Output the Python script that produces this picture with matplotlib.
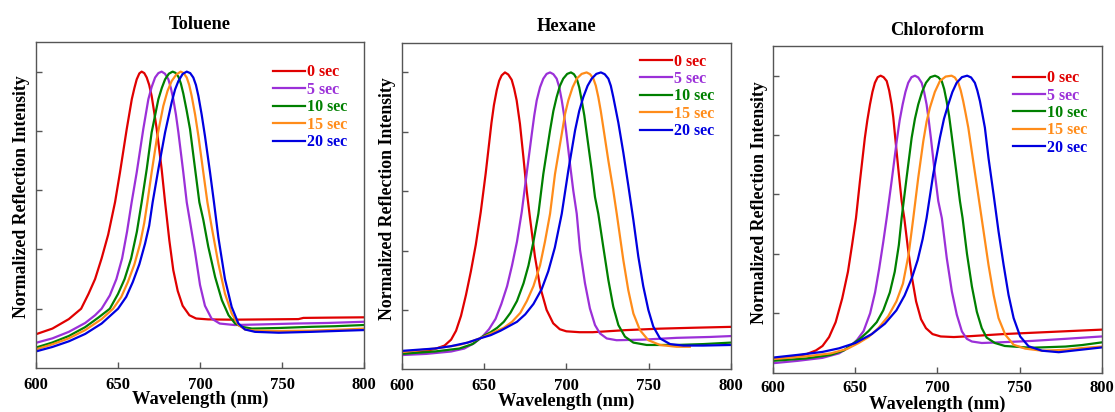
import numpy as np
import matplotlib
matplotlib.use("Agg")
import matplotlib.pyplot as plt

plt.rcParams['font.family'] = ['Liberation Serif', 'DejaVu Serif']
plt.rcParams['font.weight'] = 'bold'

labels = ['0 sec', '5 sec', '10 sec', '15 sec', '20 sec']
colors = ['#e00000', '#9b30d8', '#008000', '#ff8c1a', '#0000e0']
titles = ['Toluene', 'Hexane', 'Chloroform']

# ---------------- Toluene ----------------
tol_red_x = [600, 610, 620, 627.5, 632, 636, 640, 644, 648.2, 651.2, 655.3, 658.4, 660, 661.4, 663, 664.4, 666, 667.5,
             669, 670.5, 672, 673.6, 676.6, 678.7, 681.3, 683.7, 686.4, 689.4, 693.5, 697.6, 705, 720, 740, 760, 763, 780, 800]
tol_red_y = [0.114, 0.133, 0.165, 0.2, 0.25, 0.30, 0.37, 0.45, 0.56, 0.66, 0.806, 0.907, 0.945, 0.974, 0.994, 1.0, 0.995, 0.98,
             0.955, 0.918, 0.865, 0.806, 0.671, 0.559, 0.43, 0.33, 0.26, 0.21, 0.178, 0.167, 0.164, 0.163, 0.164, 0.165, 0.169, 0.17, 0.171]

tol_pur_x = [600, 610, 620, 630, 636, 640, 645, 649, 652.5, 655.5, 658.3, 661.4, 665.4, 668.5, 670.5, 672.6, 674.6, 676.6,
             678.6, 680.7, 682.2, 683.7, 685.3, 686.8, 689.8, 691.9, 694, 697, 700, 703, 707, 712, 721, 737, 758, 778, 800]
tol_pur_y = [0.085, 0.1, 0.122, 0.152, 0.178, 0.2, 0.245, 0.3, 0.37, 0.46, 0.559, 0.66, 0.806, 0.907, 0.948, 0.98, 0.995, 1.0,
             0.993, 0.974, 0.945, 0.907, 0.855, 0.795, 0.66, 0.559, 0.49, 0.39, 0.28, 0.21, 0.167, 0.15, 0.145, 0.147, 0.15, 0.152, 0.156]

tol_grn_x = [600, 610, 620, 630, 638, 645, 650, 654, 658, 661.5, 664.4, 667.5, 670.5, 674.6, 676.7, 678.7, 681, 683.3,
             685, 686.8, 688.3, 689.8, 691.8, 693.9, 697, 699.6, 702, 705, 709.2, 713.3, 717.4, 721.4, 725.5, 731.6, 748, 768, 782.5, 800]
tol_grn_y = [0.069, 0.086, 0.108, 0.138, 0.17, 0.2, 0.25, 0.3, 0.37, 0.46, 0.559, 0.671, 0.795, 0.907, 0.945, 0.974, 0.993, 1.0,
             0.996, 0.983, 0.96, 0.926, 0.87, 0.806, 0.671, 0.559, 0.5, 0.41, 0.307, 0.229, 0.178, 0.15, 0.139, 0.133, 0.135, 0.139, 0.141, 0.145]

tol_org_x = [600, 610, 620, 630, 640, 647, 652, 656, 660, 663.5, 666, 667.9, 670.5, 673.6, 677.6, 680.2, 682.7, 685.5, 688.2,
             690, 691.9, 693.4, 694.9, 697, 699, 702, 704.5, 707.1, 711.2, 715.2, 719.3, 723.4, 727.4, 733.5, 748, 768, 788.6, 800]
tol_org_y = [0.063, 0.08, 0.1, 0.128, 0.165, 0.2, 0.24, 0.29, 0.35, 0.42, 0.49, 0.559, 0.66, 0.772, 0.884, 0.935, 0.968, 0.99, 1.0,
             0.995, 0.98, 0.955, 0.918, 0.855, 0.783, 0.66, 0.559, 0.476, 0.352, 0.251, 0.184, 0.145, 0.13, 0.126, 0.125, 0.126, 0.13, 0.133]

tol_blu_x = [600, 610, 620, 630, 640, 650, 655, 659, 663, 666.5, 669, 671.1, 674.6, 678.7, 682.7, 684.8, 686.8, 689.4, 691.9,
             694, 695.9, 697.5, 699, 701, 703, 706.1, 708.5, 711.2, 715.2, 719.3, 723.4, 727.4, 733.5, 748, 768, 788.6, 800]
tol_blu_y = [0.056, 0.071, 0.09, 0.115, 0.15, 0.2, 0.24, 0.29, 0.35, 0.42, 0.48, 0.559, 0.671, 0.795, 0.896, 0.94, 0.968, 0.992, 1.0,
             0.995, 0.98, 0.955, 0.918, 0.855, 0.783, 0.66, 0.559, 0.44, 0.3, 0.206, 0.15, 0.13, 0.122, 0.119, 0.122, 0.126, 0.128]

# ---------------- Hexane ----------------
hex_red_x = [600, 610, 620, 626, 630, 633, 636, 639, 642, 645, 648, 651, 654.5, 656, 657.7, 659.2, 660.7, 662.7, 664.7,
             666.8, 668.3, 669.8, 671.8, 673.9, 675.9, 677.9, 680.9, 684, 688, 692, 696, 700, 708, 716, 736, 757, 777, 800]
hex_red_y = [0.052, 0.058, 0.068, 0.08, 0.1, 0.13, 0.18, 0.25, 0.33, 0.42, 0.53, 0.66, 0.83, 0.89, 0.94, 0.972, 0.99, 1.0, 0.993,
             0.975, 0.945, 0.906, 0.827, 0.715, 0.602, 0.51, 0.38, 0.279, 0.2, 0.155, 0.135, 0.128, 0.125, 0.125, 0.132, 0.137, 0.14, 0.143]

hex_pur_x = [600, 615, 630, 638, 644, 649, 653, 657, 660.5, 664, 667, 670, 672.9, 675.9, 679, 680.5, 682, 684, 686, 688, 690.1,
             692.1, 694.1, 695.7, 697.2, 698.5, 699.8, 702.2, 704.2, 706.3, 708.3, 711.3, 714.3, 717.4, 720.4, 724.5, 730.5,
             746.7, 767, 787.2, 800]
hex_pur_y = [0.048, 0.052, 0.06, 0.07, 0.088, 0.11, 0.135, 0.17, 0.22, 0.28, 0.35, 0.43, 0.53, 0.66, 0.793, 0.855, 0.906, 0.95, 0.979, 0.995, 1.0,
             0.994, 0.979, 0.95, 0.906, 0.86, 0.805, 0.692, 0.602, 0.524, 0.402, 0.29, 0.205, 0.149, 0.121, 0.104, 0.098,
             0.1, 0.106, 0.109, 0.112]

hex_grn_x = [600, 620, 635, 643, 649, 654, 658, 662, 666, 670, 674, 677, 680, 683, 686, 690.1, 692.1, 694.1, 696.1, 698.1, 700.5,
             702.8, 704.6, 706.3, 707.8, 709.3, 710.9, 712.4, 715.4, 717.4, 719.4, 722.4, 725.5, 728.5, 731.6, 735.6, 740.7,
             748.8, 767, 783.2, 800]
hex_grn_y = [0.052, 0.06, 0.07, 0.085, 0.11, 0.125, 0.14, 0.16, 0.19, 0.23, 0.29, 0.35, 0.43, 0.524, 0.658, 0.805, 0.87, 0.917, 0.955, 0.979, 0.995,
             1.0, 0.994, 0.979, 0.95, 0.906, 0.855, 0.793, 0.67, 0.58, 0.524, 0.413, 0.301, 0.211, 0.149, 0.11, 0.09,
             0.082, 0.082, 0.085, 0.09]

hex_org_x = [600, 620, 635, 643, 650, 656, 662, 667, 672, 676, 680, 684, 687, 690.1, 693.1, 697.2, 699.2, 701.2, 703.8, 706.3,
             709.3, 712.3, 714.4, 716.4, 717.9, 719.4, 720.9, 722.4, 725.5, 728.5, 730.6, 734.6, 737.6, 740.7, 744.7, 749.8,
             756.9, 767, 775]
hex_org_y = [0.058, 0.07, 0.082, 0.095, 0.11, 0.125, 0.14, 0.16, 0.19, 0.23, 0.28, 0.35, 0.43, 0.524, 0.658, 0.793, 0.86, 0.906, 0.95, 0.979,
             0.995, 1.0, 0.994, 0.979, 0.955, 0.917, 0.87, 0.816, 0.703, 0.602, 0.524, 0.368, 0.267, 0.188, 0.132, 0.098,
             0.082, 0.076, 0.076]

hex_blu_x = [600, 610, 620, 630, 640, 648, 654, 660, 665, 670, 675, 680, 685, 689, 693, 697.2, 701.2, 705.3, 707.8, 710.3,
             712.9, 715.4, 718.2, 721, 723.3, 725.5, 727, 728.5, 730, 731.6, 734.6, 737.6, 740.7, 743.7, 746.7, 749.8,
             752.8, 756.9, 763, 771, 783, 800]
hex_blu_y = [0.062, 0.066, 0.07, 0.078, 0.09, 0.105, 0.115, 0.13, 0.145, 0.16, 0.185, 0.22, 0.27, 0.33, 0.41, 0.524, 0.67, 0.805, 0.87, 0.917,
             0.955, 0.979, 0.995, 1.0, 0.994, 0.979, 0.955, 0.917, 0.875, 0.83, 0.73, 0.62, 0.503, 0.38, 0.28, 0.2,
             0.144, 0.104, 0.085, 0.08, 0.08, 0.082]

# ---------------- Chloroform ----------------
chl_red_x = [600, 610, 620, 626, 630, 634, 638, 642, 645.5, 648, 650.4, 652.8, 655.8, 657.3, 658.9, 660.4, 661.9, 663.6,
             665.4, 667.2, 669.1, 670.6, 672.1, 673.1, 674.1, 676.1, 678.2, 679.8, 682, 684.5, 687, 690, 693, 697, 702,
             710, 720, 740, 760, 780, 800]
chl_red_y = [0.043, 0.052, 0.062, 0.075, 0.09, 0.12, 0.17, 0.25, 0.34, 0.43, 0.521, 0.645, 0.791, 0.85, 0.903, 0.945, 0.976, 0.995,
             1.0, 0.995, 0.982, 0.95, 0.903, 0.86, 0.802, 0.69, 0.578, 0.521, 0.42, 0.32, 0.24, 0.18, 0.15, 0.13, 0.122,
             0.12, 0.123, 0.13, 0.135, 0.14, 0.145]

chl_pur_x = [600, 615, 630, 640, 646, 651, 655, 659, 662, 664.5, 667, 669.1, 672.1, 675.2, 677, 678.8, 680.5, 682.2, 684.2,
             686.3, 688.3, 690.4, 691.9, 693.4, 694.7, 696, 698.5, 700.5, 702.7, 705.7, 708.8, 711.8, 714.9, 717.9, 721,
             727, 737, 757.6, 777.9, 800]
chl_pur_y = [0.032, 0.04, 0.05, 0.065, 0.085, 0.11, 0.14, 0.2, 0.27, 0.35, 0.44, 0.521, 0.645, 0.78, 0.85, 0.903, 0.945, 0.976, 0.995,
             1.0, 0.994, 0.976, 0.945, 0.903, 0.85, 0.791, 0.667, 0.578, 0.52, 0.385, 0.273, 0.195, 0.139, 0.114, 0.105,
             0.1, 0.102, 0.107, 0.114, 0.122]

chl_grn_x = [600, 620, 635, 643, 648, 653, 658, 663, 667, 671, 674, 676.5, 678.2, 681.2, 684.3, 686.3, 688.3, 690.6, 693,
             695.7, 698.5, 700.5, 702.6, 704.1, 705.6, 707.1, 708.6, 711.7, 713.7, 715.3, 718, 721, 724, 727, 730, 735,
             741, 757, 778, 788, 800]
chl_grn_y = [0.04, 0.048, 0.06, 0.075, 0.095, 0.115, 0.14, 0.17, 0.21, 0.27, 0.34, 0.43, 0.521, 0.656, 0.791, 0.855, 0.903, 0.945, 0.976,
             0.995, 1.0, 0.995, 0.982, 0.955, 0.914, 0.865, 0.802, 0.667, 0.578, 0.521, 0.4, 0.29, 0.205, 0.15, 0.118, 0.1,
             0.09, 0.084, 0.088, 0.093, 0.102]

chl_org_x = [600, 620, 635, 645, 652, 658, 664, 670, 675, 679, 682.5, 685.3, 688.3, 691.4, 693.4, 695.4, 698.4, 701.5, 705,
             708.6, 710.6, 712.7, 714.2, 715.7, 717.2, 718.8, 721.8, 724.8, 728.1, 731.1, 734.2, 737.2, 741.3, 746.4,
             753.5, 763.7, 777.9, 788, 800]
chl_org_y = [0.046, 0.055, 0.065, 0.08, 0.1, 0.12, 0.15, 0.19, 0.24, 0.3, 0.4, 0.521, 0.656, 0.78, 0.845, 0.892, 0.945, 0.982, 0.997,
             1.0, 0.994, 0.976, 0.95, 0.914, 0.872, 0.825, 0.712, 0.6, 0.476, 0.363, 0.262, 0.184, 0.128, 0.094,
             0.081, 0.074, 0.077, 0.083, 0.088]

chl_blu_x = [600, 615, 630, 640, 650, 660, 668, 675, 680, 684.5, 688, 691, 693.4, 697.4, 701.5, 704, 706.6, 709.1, 711.7,
             714.9, 718.1, 720.5, 722.8, 724.3, 725.9, 727.4, 728.9, 731.1, 734.2, 737.2, 740.3, 743.3, 746.4, 750.4,
             755.5, 763.7, 773.9, 782, 800]
chl_blu_y = [0.051, 0.06, 0.07, 0.082, 0.1, 0.13, 0.165, 0.21, 0.26, 0.32, 0.38, 0.45, 0.521, 0.667, 0.791, 0.855, 0.903, 0.945, 0.976,
             0.995, 1.0, 0.994, 0.976, 0.95, 0.914, 0.87, 0.825, 0.723, 0.6, 0.476, 0.363, 0.262, 0.184, 0.122,
             0.089, 0.074, 0.069, 0.074, 0.085]

panels = [
    [(tol_red_x, tol_red_y), (tol_pur_x, tol_pur_y), (tol_grn_x, tol_grn_y), (tol_org_x, tol_org_y), (tol_blu_x, tol_blu_y)],
    [(hex_red_x, hex_red_y), (hex_pur_x, hex_pur_y), (hex_grn_x, hex_grn_y), (hex_org_x, hex_org_y), (hex_blu_x, hex_blu_y)],
    [(chl_red_x, chl_red_y), (chl_pur_x, chl_pur_y), (chl_grn_x, chl_grn_y), (chl_org_x, chl_org_y), (chl_blu_x, chl_blu_y)],
]

#----------------------------------------------
fig = plt.figure(figsize=(11.15, 4.12), dpi=100)

ax_pos = [[0.0323, 0.1068, 0.2942, 0.7913],
          [0.3603, 0.1036, 0.2953, 0.7927],
          [0.6935, 0.0954, 0.2945, 0.7930]]
title_pad = [9.4, 8.4, 7.7]
leg_anchor = [(0.722, 0.931), (0.724, 0.967), (0.729, 0.926)]
ylab_pos = [(-0.017, 0.526), (-0.017, 0.524), (-0.016, 0.521)]
xlab_pad = [-1.5, -1.5, -0.3]
tick_pad = [6.5, 6.5, 5.3]

for i in range(3):
    ax = fig.add_axes(ax_pos[i])
    for (x, y), c, lab in zip(panels[i], colors, labels):
        ax.plot(x, y, color=c, lw=1.6, label=lab)
    ax.set_xlim(600, 800)
    ax.set_ylim(0, 1.1)
    ax.set_xticks([600, 650, 700, 750, 800])
    ax.set_yticks([0.2, 0.4, 0.6, 0.8, 1.0])
    ax.set_yticklabels([])
    ax.tick_params(direction='in', length=4, width=1, color='#555555',
                   labelsize=12, pad=tick_pad[i], top=False, right=False)
    for sp in ax.spines.values():
        sp.set_color('#555555')
        sp.set_linewidth(1.0)
    ax.set_xlabel('Wavelength (nm)', fontsize=13.3, fontweight='bold', labelpad=xlab_pad[i])
    ax.set_ylabel('Normalized Reflection Intensity', fontsize=12.8, fontweight='bold')
    ax.yaxis.set_label_coords(*ylab_pos[i])
    ax.set_title(titles[i], fontsize=13.2, fontweight='bold', pad=title_pad[i])
    ax.legend(loc='upper left', bbox_to_anchor=leg_anchor[i], frameon=False,
              handlelength=2.0, handletextpad=0.15, labelspacing=0.09,
              borderpad=0, borderaxespad=0, labelcolor='linecolor',
              prop={'weight': 'bold', 'size': 11.5})

plt.savefig('out.png', dpi=100)
